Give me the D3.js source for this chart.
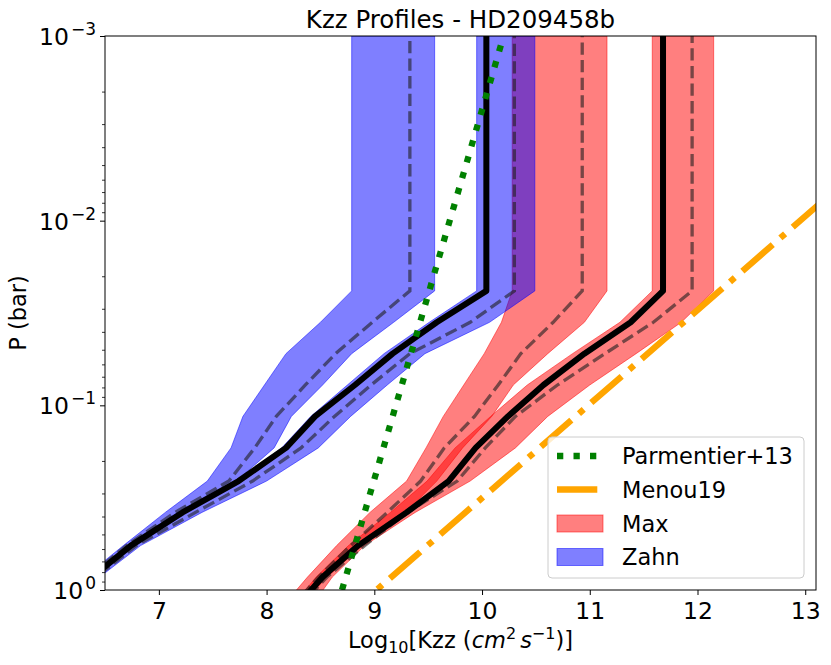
<!DOCTYPE html>
<html><head><meta charset="utf-8">
<script src="https://cdn.jsdelivr.net/npm/d3@7/dist/d3.min.js"></script>
<style>
body{margin:0;background:#fff}
svg{display:block}
text{font-family:"DejaVu Sans",sans-serif;fill:#000}
</style>
</head><body>
<svg id="chart" width="831" height="665"></svg>
<script>
// ---- data (pressure in bar, values are log10 Kzz) ----
const pressure = [0.001, 0.0240, 0.0355, 0.0525, 0.0776, 0.1148, 0.170, 0.257, 0.380, 0.575, 0.851, 1.26];

const zahnA_lo  = [8.79, 8.79, 8.50, 8.18, 7.98, 7.78, 7.67, 7.45, 7.06, 6.67, 6.31, 5.94];
const zahnA_hi  = [9.56, 9.56, 9.18, 8.79, 8.52, 8.23, 8.07, 7.72, 7.19, 6.72, 6.36, 6.02];
const zahnA_mid = [9.33, 9.33, 8.98, 8.64, 8.36, 8.09, 7.89, 7.65, 7.15, 6.70, 6.34, 5.99];
const zahnB_lo  = [9.95, 9.95, 9.51, 9.09, 8.75, 8.41, 8.14, 7.72, 7.18, 6.71, 6.35, 6.01];
const zahnB_hi  = [10.49, 10.49, 10.07, 9.47, 9.12, 8.78, 8.48, 8.00, 7.40, 6.83, 6.45, 6.13];
const zahnB_mid = [10.30, 10.30, 9.89, 9.33, 8.97, 8.63, 8.32, 7.87, 7.34, 6.79, 6.42, 6.08];
const zahnMean  = [10.04, 10.04, 9.58, 9.17, 8.82, 8.45, 8.18, 7.74, 7.22, 6.74, 6.38, 6.04];

const maxA_lo  = [10.28, 10.28, 10.18, 10.02, 9.83, 9.64, 9.48, 9.30, 8.96, 8.65, 8.38, 8.13];
const maxA_hi  = [11.16, 11.16, 10.95, 10.61, 10.29, 10.09, 9.82, 9.58, 9.29, 8.89, 8.56, 8.29];
const maxA_mid = [10.93, 10.93, 10.66, 10.36, 10.15, 9.93, 9.65, 9.43, 9.12, 8.78, 8.48, 8.22];
const maxB_lo  = [11.58, 11.58, 11.28, 10.84, 10.42, 10.08, 9.75, 9.49, 9.15, 8.76, 8.46, 8.22];
const maxB_hi  = [12.15, 12.15, 11.85, 11.43, 11.00, 10.61, 10.31, 9.89, 9.38, 8.91, 8.61, 8.40];
const maxB_mid = [11.95, 11.95, 11.59, 11.14, 10.70, 10.31, 10.03, 9.77, 9.31, 8.91, 8.56, 8.29];
const maxMean  = [11.68, 11.68, 11.38, 10.95, 10.57, 10.24, 9.94, 9.69, 9.30, 8.85, 8.52, 8.26];

const parmentierP = [1, 0.001];
const parmentierK = [8.70, 10.20];
const menouP = [1, 0.001];
const menouK = [9.02, 14.92];

const xTicks = [7, 8, 9, 10, 11, 12, 13];
const yTicks = [1e-3, 1e-2, 1e-1, 1];
const yTickExp = ["\u22123", "\u22122", "\u22121", "0"];
const legendLabels = ["Parmentier+13", "Menou19", "Max", "Zahn"];

// ---- layout ----
const L = 105, R = 816, T = 36, B = 590;
const svg = d3.select("#chart");
const x = d3.scaleLinear().domain([6.5, 13.1]).range([L, R]);
const y = d3.scaleLog().domain([1, 1e-3]).range([B, T]);

svg.append("defs").append("clipPath").attr("id", "clip")
  .append("rect").attr("x", L).attr("y", T).attr("width", R - L).attr("height", B - T);

const plot = svg.append("g").attr("clip-path", "url(#clip)");

function band(lo, hi) { return pressure.map((p, i) => ({p, lo: lo[i], hi: hi[i]})); }
function series(vals, ps) { return (ps || pressure).map((p, i) => ({p, v: vals[i]})); }

const area = d3.area().y(d => y(d.p)).x0(d => x(d.lo)).x1(d => x(d.hi));
const line = d3.line().x(d => x(d.v)).y(d => y(d.p));

function drawBand(lo, hi, color) {
  plot.append("path").datum(band(lo, hi)).attr("d", area)
    .attr("fill", color).attr("fill-opacity", 0.5)
    .attr("stroke", color).attr("stroke-opacity", 0.5).attr("stroke-width", 1);
}
function drawDashed(vals) {
  plot.append("path").datum(series(vals).slice().reverse()).attr("d", line)
    .attr("fill", "none").attr("stroke", "rgb(30,30,30)").attr("stroke-opacity", 0.6)
    .attr("stroke-width", 3.3).attr("stroke-dasharray", "12.3,5.3");
}
function drawMean(vals) {
  plot.append("path").datum(series(vals).slice().reverse()).attr("d", line)
    .attr("fill", "none").attr("stroke", "#000").attr("stroke-width", 6)
    .attr("stroke-linejoin", "round");
}

// Max (red) first, Zahn (blue) on top
drawBand(maxA_lo, maxA_hi, "red");
drawBand(maxB_lo, maxB_hi, "red");
drawBand(zahnA_lo, zahnA_hi, "blue");
drawBand(zahnB_lo, zahnB_hi, "blue");
[maxA_mid, maxB_mid, zahnA_mid, zahnB_mid].forEach(drawDashed);
drawMean(maxMean);
drawMean(zahnMean);

plot.append("path").datum(series(parmentierK, parmentierP)).attr("d", line)
  .attr("fill", "none").attr("stroke", "green").attr("stroke-width", 6.3)
  .attr("stroke-dasharray", "6.3,10.2");
plot.append("path").datum(series(menouK, menouP)).attr("d", line)
  .attr("fill", "none").attr("stroke", "orange").attr("stroke-width", 6.3)
  .attr("stroke-dasharray", "40.3,10.1,6.3,10.1").attr("stroke-dashoffset", 49);

// ---- axes ----
const gx = svg.append("g").attr("transform", `translate(0,${B})`)
  .call(d3.axisBottom(x).tickValues(xTicks).tickSize(5).tickPadding(7).tickFormat(d3.format("d")));
gx.select(".domain").remove();
gx.selectAll("line").attr("stroke", "#000").attr("stroke-width", 1);
gx.selectAll("text").attr("font-size", 23.5).attr("font-family", "DejaVu Sans");

const minor = [];
for (let e = -3; e < 0; e++) for (let m = 2; m <= 9; m++) minor.push(m * Math.pow(10, e));
const gym = svg.append("g").attr("transform", `translate(${L},0)`)
  .call(d3.axisLeft(y).tickValues(minor).tickSize(3).tickFormat(""));
gym.select(".domain").remove();
gym.selectAll("line").attr("stroke", "#000").attr("stroke-width", 0.8);

const gy = svg.append("g").attr("transform", `translate(${L},0)`)
  .call(d3.axisLeft(y).tickValues(yTicks).tickSize(5).tickPadding(4).tickFormat(""));
gy.select(".domain").remove();
gy.selectAll("line").attr("stroke", "#000").attr("stroke-width", 1);
gy.selectAll(".tick text").each(function(d) {
  const t = d3.select(this).attr("dy", null).attr("y", 8.5).attr("font-size", 23.5)
    .attr("font-family", "DejaVu Sans").attr("text-anchor", "end");
  t.text("");
  t.append("tspan").text("10");
  t.append("tspan").attr("font-size", 17).attr("dy", -10).attr("dx", 2)
    .text(yTickExp[yTicks.indexOf(d)]);
});

// spines
svg.append("rect").attr("x", L).attr("y", T).attr("width", R - L).attr("height", B - T)
  .attr("fill", "none").attr("stroke", "#000").attr("stroke-width", 1);

// title & labels
svg.append("text").attr("x", (L + R) / 2).attr("y", 28).attr("text-anchor", "middle")
  .attr("font-size", 24.5).text("Kzz Profiles - HD209458b");

const xl = svg.append("text").attr("x", (L + R) / 2).attr("y", 648).attr("text-anchor", "middle")
  .attr("font-size", 22.5);
xl.append("tspan").text("Log");
xl.append("tspan").attr("font-size", 16).attr("dy", 5).text("10");
xl.append("tspan").attr("dy", -5).text("[Kzz (");
xl.append("tspan").attr("font-style", "italic").text("cm");
xl.append("tspan").attr("font-size", 16).attr("dy", -9).text("2");
xl.append("tspan").attr("dy", 9).attr("dx", 4).attr("font-style", "italic").text("s");
xl.append("tspan").attr("font-size", 16).attr("dy", -9).text("\u22121");
xl.append("tspan").attr("dy", 9).text(")]");

svg.append("text").attr("transform", `translate(26,${(T + B) / 2}) rotate(-90)`)
  .attr("text-anchor", "middle").attr("font-size", 22.5).text("P (bar)");

// ---- legend ----
const lg = svg.append("g");
lg.append("rect").attr("x", 548).attr("y", 437).attr("width", 256).attr("height", 141)
  .attr("rx", 4).attr("fill", "#fff").attr("fill-opacity", 0.8)
  .attr("stroke", "#cccccc").attr("stroke-width", 1);
const rowY = [456, 489.5, 523.5, 557];
lg.append("line").attr("x1", 557).attr("x2", 603).attr("y1", rowY[0]).attr("y2", rowY[0])
  .attr("stroke", "green").attr("stroke-width", 6.3).attr("stroke-dasharray", "6.3,10.2");
lg.append("line").attr("x1", 557).attr("x2", 603).attr("y1", rowY[1]).attr("y2", rowY[1])
  .attr("stroke", "orange").attr("stroke-width", 6.3).attr("stroke-dasharray", "40.3,10.1,6.3,10.1");
[["red", rowY[2]], ["blue", rowY[3]]].forEach(([c, yy]) => {
  lg.append("rect").attr("x", 557).attr("y", yy - 8.5).attr("width", 46).attr("height", 17)
    .attr("fill", c).attr("fill-opacity", 0.5).attr("stroke", c).attr("stroke-opacity", 0.5);
});
legendLabels.forEach((s, i) => {
  lg.append("text").attr("x", 622).attr("y", rowY[i] + 8).attr("font-size", 22.5).text(s);
});
</script>
</body></html>
